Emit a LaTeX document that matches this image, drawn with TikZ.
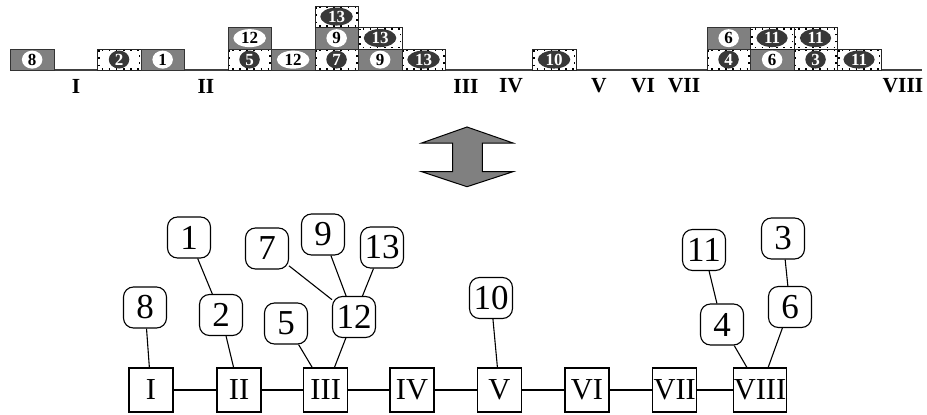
\documentclass[tikz,border=0pt]{standalone}
\usepackage{fontspec}
\setmainfont{Liberation Serif}
\usetikzlibrary{shapes.geometric}
\definecolor{boxgray}{HTML}{808080}
\definecolor{darkell}{HTML}{383838}
\definecolor{baseln}{HTML}{404040}
\tikzset{
  gbox/.style={draw=black!80, line width=0.8pt, fill=boxgray, minimum width=43.5pt, minimum height=21.5pt, inner sep=0pt, anchor=north west},
  dbox/.style={draw=black!85, line width=0.6pt, fill=white, minimum width=43.5pt, minimum height=21.5pt, inner sep=0pt, anchor=north west},
  dots/.style={draw=black, line width=1.6pt, dash pattern=on 1.6pt off 5.5pt},
  wlab/.style={ellipse, fill=white, inner xsep=3pt, inner ysep=0pt, minimum height=18pt, minimum width=19pt, font=\fontsize{17}{17}\selectfont\bfseries, text=black},
  blab/.style={ellipse, fill=darkell, inner xsep=3pt, inner ysep=0pt, minimum height=18pt, minimum width=19pt, font=\fontsize{17}{17}\selectfont\bfseries, text=white},
  axlab/.style={font=\fontsize{21.5}{22}\selectfont\bfseries, inner sep=0pt},
  sq/.style={draw=black, line width=1.1pt, minimum width=44pt, minimum height=44pt, inner sep=0pt, font=\fontsize{30.5}{31}\selectfont},
  rn/.style={draw=black, line width=1.1pt, rounded corners=10pt, minimum width=43pt, minimum height=41pt, inner sep=0pt, font=\fontsize{35}{36}\selectfont},
  ed/.style={line width=1.1pt, black}
}
\newcommand\gbx[4]{\node[gbox] (#1) at (#2,#3) {}; \node[wlab] (#1l) at (#1.center) {#4};}
\newcommand\dbx[4]{\node[dbox] (#1) at (#2,#3) {};
  \draw[dots] ([shift={(1.8pt,-1.8pt)}]#1.north west) rectangle ([shift={(-1.8pt,1.8pt)}]#1.south east);
  \node[blab] (#1l) at (#1.center) {#4};}
\begin{document}
\begin{tikzpicture}[x=1pt,y=-1pt]
\useasboundingbox (0,0) rectangle (927,415);
% ---------- top strip ----------
\draw[baseln, line width=2pt] (10,70) -- (922,70);
% bottom row
\gbx{a1}{10}{48.5}{8}
\dbx{a2}{97}{48.5}{2}
\gbx{a3}{140.5}{48.5}{1}
\dbx{a4}{227.5}{48.5}{5}
\gbx{a5}{271}{48.5}{12}
\dbx{a6}{314.5}{48.5}{7}
\gbx{a7}{358}{48.5}{9}
\dbx{a8}{401.5}{48.5}{13}
\dbx{a9}{532}{48.5}{10}
\dbx{a10}{706.5}{48.5}{4}
\gbx{a11}{750}{48.5}{6}
\dbx{a12}{793.5}{48.5}{3}
\dbx{a13}{837}{48.5}{11}
% middle row
\gbx{b1}{227.5}{27}{12}
\gbx{b2}{314.5}{27}{9}
\dbx{b3}{358}{27}{13}
\gbx{b4}{706.5}{27}{6}
\dbx{b5}{750}{27}{11}
\dbx{b6}{793.5}{27}{11}
% top row
\dbx{c1}{314.5}{5.5}{13}
% axis labels
\node[axlab] (xI) at (76,86) {I};
\node[axlab] (xII) at (206,86) {II};
\node[axlab] (xIII) at (466,86) {III};
\node[axlab] (xIV) at (511,86) {IV};
\node[axlab] (xV) at (599,86) {V};
\node[axlab] (xVI) at (643,86) {VI};
\node[axlab] (xVII) at (684,86) {VII};
\node[axlab] (xVIII) at (903,86) {VIII};
% ---------- double arrow ----------
\draw[fill=boxgray, draw=black, line width=1pt, line join=miter]
  (467,127) -- (513,143) -- (482.3,143) -- (482.3,171.7) -- (513,171.7) -- (467,186.7)
  -- (421.7,171.7) -- (452.7,171.7) -- (452.7,143) -- (421.7,143) -- cycle;
% ---------- bottom graph ----------
\node[sq] (sI) at (151,390) {I};
\node[sq] (sII) at (239,390) {II};
\node[sq] (sIII) at (325.7,390) {III};
\node[sq] (sIV) at (412,390) {IV};
\node[sq] (sV) at (499.5,390) {V};
\node[sq] (sVI) at (587,390) {VI};
\node[sq] (sVII) at (674.7,390) {VII};
\node[sq, minimum width=48pt] (sVIII) at (760,390) {VIII};
\node[rn] (n8) at (145,307.5) {8};
\node[rn] (n1) at (189,237.5) {1};
\node[rn] (n2) at (221,315) {2};
\node[rn] (n7) at (267,248.5) {7};
\node[rn] (n9) at (323,234.5) {9};
\node[rn] (n13) at (382,247.5) {13};
\node[rn] (n12) at (354,317) {12};
\node[rn] (n5) at (286,323.5) {5};
\node[rn] (n10) at (491,298) {10};
\node[rn] (n11) at (704,250) {11};
\node[rn] (n4) at (722,324.5) {4};
\node[rn] (n3) at (783,238.5) {3};
\node[rn] (n6) at (790,307) {6};
\draw[ed] (sI) -- (sII) (sII) -- (sIII) (sIII) -- (sIV) (sIV) -- (sV) (sV) -- (sVI) (sVI) -- (sVII) (sVII) -- (sVIII);
\draw[ed] (n8) -- (sI);
\draw[ed] (n1) -- (n2);
\draw[ed] (n2) -- (sII);
\draw[ed] (n5) -- (sIII);
\draw[ed] (n12) -- (sIII);
\draw[ed] (n7) -- (n12);
\draw[ed] (n9) -- (n12);
\draw[ed] (n13) -- (n12);
\draw[ed] (n10) -- (sV);
\draw[ed] (n11) -- (n4);
\draw[ed] (n4) -- (sVIII);
\draw[ed] (n3) -- (n6);
\draw[ed] (n6) -- (sVIII);
\end{tikzpicture}
\end{document}
